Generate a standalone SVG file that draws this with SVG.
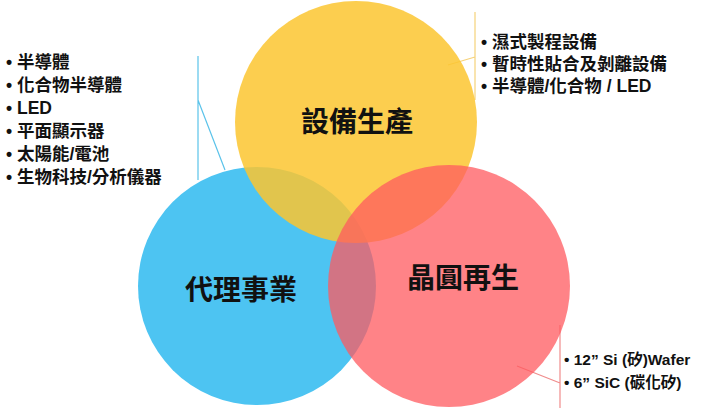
<svg xmlns="http://www.w3.org/2000/svg" width="720" height="414" viewBox="0 0 720 414">
<style>
text{font-family:"Liberation Sans","Noto Sans CJK TC",sans-serif;font-weight:bold;fill:#111}
.l{font-size:17.5px}
.s{font-size:15.5px}
.c{font-size:28px;text-anchor:middle}
.ln{fill:none;stroke-width:1.2}
</style>
<rect width="720" height="414" fill="#fff"/>
<g id="connectors">
<path class="ln" stroke="#5BC3EA" d="M198 56V180M198 100L225 170"/>
<path class="ln" stroke="#F6D27A" d="M475 12V100M475 57L448 65"/>
<path class="ln" stroke="#F08C8C" d="M560 325V408M517 366L560 383"/>
</g>
<g id="blue"><circle cx="257" cy="286" r="119" fill="#4DC4F2"/></g>
<g id="yellow"><circle cx="356" cy="122" r="121" fill="#FCC530" fill-opacity="0.85"/></g>
<g id="red"><circle cx="449" cy="286" r="121" fill="#FF5A5F" fill-opacity="0.75"/></g>
<g id="labels">
<text class="c" x="357" y="132">設備生產</text>
<text class="c" x="241" y="300">代理事業</text>
<text class="c" x="463" y="288">晶圓再生</text>
</g>
<g id="list-left">
<text class="l" x="6" y="68">• 半導體</text>
<text class="l" x="6" y="91">• 化合物半導體</text>
<text class="l" x="6" y="114">• LED</text>
<text class="l" x="6" y="137">• 平面顯示器</text>
<text class="l" x="6" y="160">• 太陽能/電池</text>
<text class="l" x="6" y="183">• 生物科技/分析儀器</text>
</g>
<g id="list-top">
<text class="l" x="481" y="48">• 濕式製程設備</text>
<text class="l" x="481" y="70">• 暫時性貼合及剝離設備</text>
<text class="l" x="481" y="92">• 半導體/化合物 / LED</text>
</g>
<g id="list-bottom">
<text class="s" x="564" y="365">• 12” Si (矽)Wafer</text>
<text class="s" x="564" y="388">•  6” SiC (碳化矽)</text>
</g>
</svg>
